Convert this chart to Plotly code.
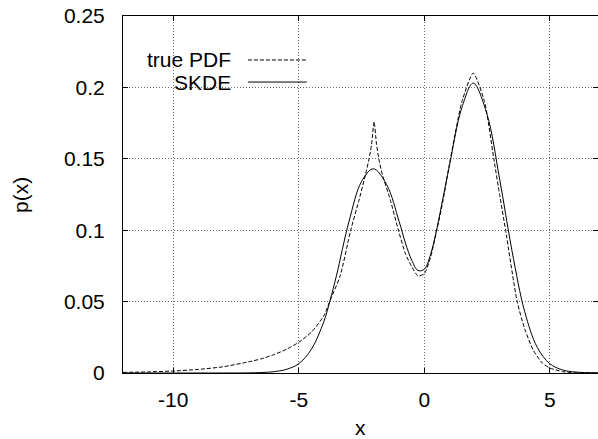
import plotly.graph_objects as go

# ---- data ----
true_x = [-12, -11, -10, -9, -8, -7, -6.5, -6, -5.5, -5, -4.5, -4, -3.77, -3.35,
          -2.93, -2.6, -2.34, -2.2, -2.1, -2.0, -1.9, -1.8, -1.67, -1.35, -1.03,
          -0.75, -0.5, -0.25, 0.0, 0.25, 0.5, 0.75, 1.0, 1.5, 1.95, 2.4, 2.77, 3.0,
          3.24, 3.7, 4.0, 4.34, 4.7, 5.0, 5.5, 6.0, 7.0]
true_p = [0.0004, 0.0008, 0.0014, 0.0025, 0.0044, 0.0078, 0.0099, 0.0128, 0.0165,
          0.0215, 0.0285, 0.040, 0.050, 0.068, 0.100, 0.121, 0.139, 0.150, 0.160,
          0.176, 0.160, 0.149, 0.139, 0.121, 0.100, 0.0835, 0.0745, 0.068, 0.0695,
          0.081, 0.100, 0.121, 0.146, 0.190, 0.210, 0.190, 0.150, 0.125, 0.100,
          0.050, 0.031, 0.016, 0.007, 0.0035, 0.001, 0.0002, 0.0]

skde_x = [-12, -8, -7, -6.5, -6, -5.5, -5, -4.5, -4, -3.75, -3.5, -3.0, -2.5,
          -2.03, -1.5, -1.0, -0.75, -0.5, -0.25, 0.0, 0.25, 0.5, 0.75, 1.0, 1.5,
          1.95, 2.5, 3.0, 3.5, 4.0, 4.5, 5.0, 5.5, 6.0, 7.0]
skde_p = [0.0, 0.0, 0.0001, 0.0003, 0.0009, 0.0025, 0.0065, 0.0165, 0.036, 0.051,
          0.068, 0.106, 0.134, 0.143, 0.132, 0.106, 0.091, 0.079, 0.0718, 0.0726,
          0.083, 0.101, 0.123, 0.145, 0.186, 0.203, 0.181, 0.136, 0.085, 0.043,
          0.018, 0.0065, 0.0022, 0.0007, 0.0001]

x_ticks = [-10, -5, 0, 5]
x_tick_text = ["-10", "-5", "0", "5"]
y_ticks = [0, 0.05, 0.1, 0.15, 0.2, 0.25]
y_tick_text = ["0", "0.05", "0.1", "0.15", "0.2", "0.25"]

series_names = ["true PDF", "SKDE"]

FONT = "Liberation Sans, Arial, Helvetica, sans-serif"
FS = 21

fig = go.Figure()
fig.add_trace(go.Scatter(x=true_x, y=true_p, mode="lines", name=series_names[0],
                         line=dict(color="black", width=1, dash="4px,2px",
                                   shape="spline", smoothing=0.6),
                         showlegend=False))
fig.add_trace(go.Scatter(x=skde_x, y=skde_p, mode="lines", name=series_names[1],
                         line=dict(color="black", width=1, shape="spline", smoothing=1.0),
                         showlegend=False))

axis_common = dict(
    showline=True, linecolor="black", linewidth=1, mirror="allticks",
    ticks="inside", ticklen=5, tickwidth=1, tickcolor="black",
    showgrid=True, gridcolor="#6a6a6a", gridwidth=1, griddash="1px,2px",
    zeroline=False, tickfont=dict(family=FONT, size=FS, color="black"),
)
fig.update_xaxes(range=[-12, 6.92], tickvals=x_ticks, ticktext=x_tick_text,
                 ticklabelstandoff=8, **axis_common)
fig.update_yaxes(range=[0, 0.25], tickvals=y_ticks, ticktext=y_tick_text,
                 ticklabelstandoff=13, **axis_common)

# key box (gnuplot style: text left of sample)
fig.add_shape(type="rect", xref="paper", yref="paper", x0=0.002, x1=0.417, y0=0.784, y1=0.910,
              fillcolor="white", line=dict(width=0), layer="between")
key_y = [0.8768, 0.815]
key_dash = ["4px,2px", "solid"]
for name, ky, dsh in zip(series_names, key_y, key_dash):
    fig.add_annotation(x=0.231, y=ky, xref="paper", yref="paper", text=name,
                       showarrow=False, xanchor="right", yanchor="middle",
                       font=dict(family=FONT, size=FS, color="black"))
    fig.add_shape(type="line", xref="paper", yref="paper", x0=0.263, x1=0.387, y0=ky, y1=ky,
                  line=dict(color="black", width=1, dash=dsh), layer="above")

fig.add_annotation(x=0.5, y=-0.154, xref="paper", yref="paper", text="x", showarrow=False,
                   xanchor="center", yanchor="middle", font=dict(family=FONT, size=FS, color="black"))
fig.add_annotation(x=-0.2147, y=0.4986, xref="paper", yref="paper", text="p(x)", showarrow=False,
                   textangle=-90, xanchor="center", yanchor="middle",
                   font=dict(family=FONT, size=FS, color="black"))

fig.update_layout(width=598, height=439, margin=dict(l=123, r=0, t=16, b=66),
                  paper_bgcolor="white", plot_bgcolor="white", showlegend=False)

fig.write_html("out.html", config={"displayModeBar": False},
               post_script="document.body.style.margin='0';document.body.style.overflow='hidden';")
